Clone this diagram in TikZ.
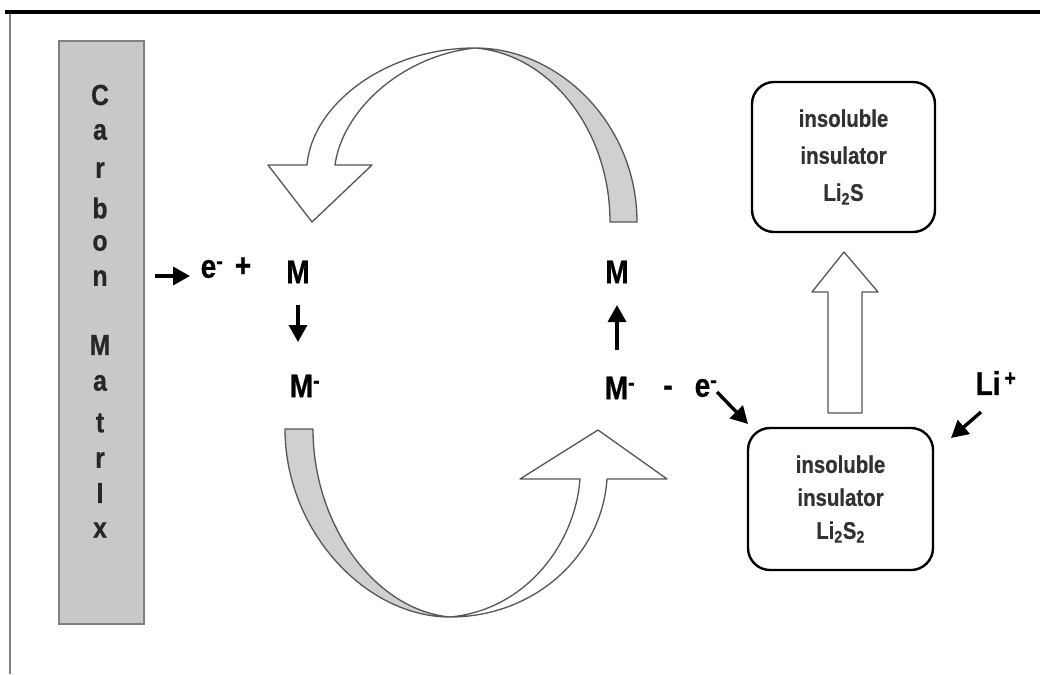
\documentclass[tikz,border=0pt]{standalone}
\usepackage{fontspec}
\setmainfont{Liberation Sans}
\newfontfamily\narrowf[FakeStretch=0.85,FakeBold=0.6]{Liberation Sans}
\usetikzlibrary{arrows.meta}
\definecolor{bandgray}{RGB}{208,208,208}
\definecolor{carbgray}{RGB}{200,200,200}
\definecolor{edgegray}{RGB}{85,85,85}
\definecolor{boxtext}{RGB}{50,50,50}
\tikzset{
  lbl/.style={font=\narrowf\bfseries\fontsize{33}{33}\selectfont, inner sep=0pt},
  clet/.style={font=\narrowf\bfseries\fontsize{29}{29}\selectfont, text=black!85, inner sep=0pt},
  arr/.style={line width=3.4pt, -{Triangle[length=17pt,width=18pt]}},
  box/.style={draw, line width=2.4pt, rounded corners=22pt, align=center, text=boxtext,
     font=\narrowf\bfseries\fontsize{24}{37}\selectfont},
  band/.style={draw=edgegray, line width=1.3pt, line join=round},
}
\begin{document}
\begin{tikzpicture}[x=1pt,y=-1pt]
\useasboundingbox (0,0) rectangle (1040,674);
\fill[white] (0,0) rectangle (1040,674);
% frame
\draw[gray, line width=2.5pt] (10,12) -- (10,674);
\draw[line width=4pt] (5,12) -- (1040,12);
% carbon matrix
\node[draw=gray, fill=carbgray, line width=1.8pt, minimum width=85pt, minimum height=583pt,
      anchor=north west, inner sep=0pt] (carbon) at (58,40) {};
\foreach \l/\yy [count=\i] in {C/95,a/132,r/170,b/208,o/243,n/278,M/345,a/383,t/423,r/460,I/493,x/530}
  \node[clet] (cl\i) at (100,\yy) {\l};
% left side labels
\node[lbl] (eL) at (212,269) {e\textsuperscript{-}};
\node[lbl] (plus) at (243,267) {+};
\node[lbl] (M1) at (298,272) {M};
\node[lbl] (M1m) at (305,386) {M\textsuperscript{-}};
% right side labels
\node[lbl] (M2) at (617,272) {M};
\node[lbl] (M2m) at (620,388) {M\textsuperscript{-}};
\node[lbl] (minus) at (668,391) {-};
\node[lbl] (eR) at (706,388) {e\textsuperscript{-}};
\node[lbl] (Li) at (996,383) {Li\textsuperscript{\,+}};
% boxes
\node[box, minimum width=183pt, minimum height=150pt] (b1) at (843.5,157)
  {insoluble\\insulator\\Li\textsubscript{2}S};
\node[box, minimum width=185pt, minimum height=142pt, font=\narrowf\bfseries\fontsize{24}{33}\selectfont] (b2) at (840.5,499)
  {insoluble\\insulator\\Li\textsubscript{2}S\textsubscript{2}};
% small arrows
\coordinate (a1s) at (155,276);
\coordinate (a1e) at (190,276);
\draw[arr] (a1s) -- (a1e);
\draw[arr, shorten <=33pt, shorten >=44pt] (M1.center) -- (M1.center |- M1m.center);
\draw[arr, shorten <=38pt, shorten >=33pt] (M2.center |- M2m.center) -- (M2.center);
\coordinate (a2s) at (717,392);
\coordinate (a2e) at (748,424);
\draw[arr] (a2s) -- (a2e);
\coordinate (a3s) at (981,412);
\coordinate (a3e) at (951,438);
\draw[arr] (a3s) -- (a3e);
% big hollow up arrow between boxes
\draw[band, fill=white] (828,413) -- (828,292) -- (812,292) -- (844,252) -- (878,292) -- (862,292) -- (862,413) -- cycle;
% top loop
\draw[band, fill=bandgray] (637,222) .. controls (637,125) and (560,48) .. (475,48)
   .. controls (550,54) and (610,130) .. (610,222) -- cycle;
\draw[band, fill=white] (475,48) .. controls (385,48) and (312,105) .. (307,165)
   -- (268,165) -- (312,222) -- (372,165) -- (335,165)
   .. controls (342,112) and (400,56) .. (475,48) -- cycle;
% bottom loop
\draw[band, fill=bandgray] (285,429) .. controls (285,530) and (365,617) .. (450,617)
   .. controls (375,610) and (313,525) .. (313,429) -- cycle;
\draw[band, fill=white] (450,617) .. controls (535,617) and (602,555) .. (607,479)
   -- (667,479) -- (598,430) -- (520,479) -- (580,479)
   .. controls (575,545) and (525,610) .. (450,617) -- cycle;
\end{tikzpicture}
\end{document}
